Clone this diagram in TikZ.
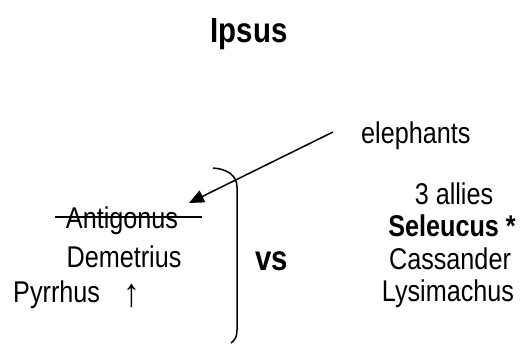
\documentclass[tikz,border=0pt]{standalone}
\usepackage{fontspec}
\setmainfont{Liberation Sans}[FakeStretch=0.84]
\usetikzlibrary{arrows.meta}
\begin{document}
\begin{tikzpicture}[x=1pt,y=-1pt,
  txt/.style={inner sep=0pt,anchor=base,font=\fontsize{30}{36}\selectfont},
  big/.style={inner sep=0pt,anchor=base,font=\fontsize{35}{42}\selectfont\bfseries},
  ln/.style={line width=1.5pt}]
\useasboundingbox (0,0) rectangle (525,343);
\node[big] (title) at (249,42) {Ipsus};
\node[txt,anchor=base west] (eleph) at (361,143) {elephants};
\node[txt] (allies) at (454,204) {3 allies};
\node[txt] (sel) at (452,236) {\bfseries Seleucus *};
\node[txt] (cas) at (450,269) {Cassander};
\node[txt] (lys) at (448,301) {Lysimachus};
\node[txt] (ant) at (122,228) {Antigonus};
\node[txt] (dem) at (124,267) {Demetrius};
\node[txt,anchor=base west] (pyr) at (13,302) {Pyrrhus};
\node[txt,font=\fontsize{40}{48}\selectfont] (up) at (132,306) {↑};
\node[big] (vs) at (272,270) {vs};
\coordinate (strikeL) at (55,217);
\coordinate (strikeR) at (202,217);
\draw[ln] (strikeL) -- (strikeR);
\coordinate (arrS) at (333,132);
\coordinate (arrE) at (189,203);
\draw[ln,-{Triangle[length=15pt,width=13pt]}] (arrS) -- (arrE);
\coordinate (brT) at (213,168);
\coordinate (brB) at (231,343);
\draw[ln] (brT) .. controls (228,169) and (237,176) .. (237,187) -- (237,330) .. controls (237,337) and (235,340) .. (brB);
\end{tikzpicture}
\end{document}
